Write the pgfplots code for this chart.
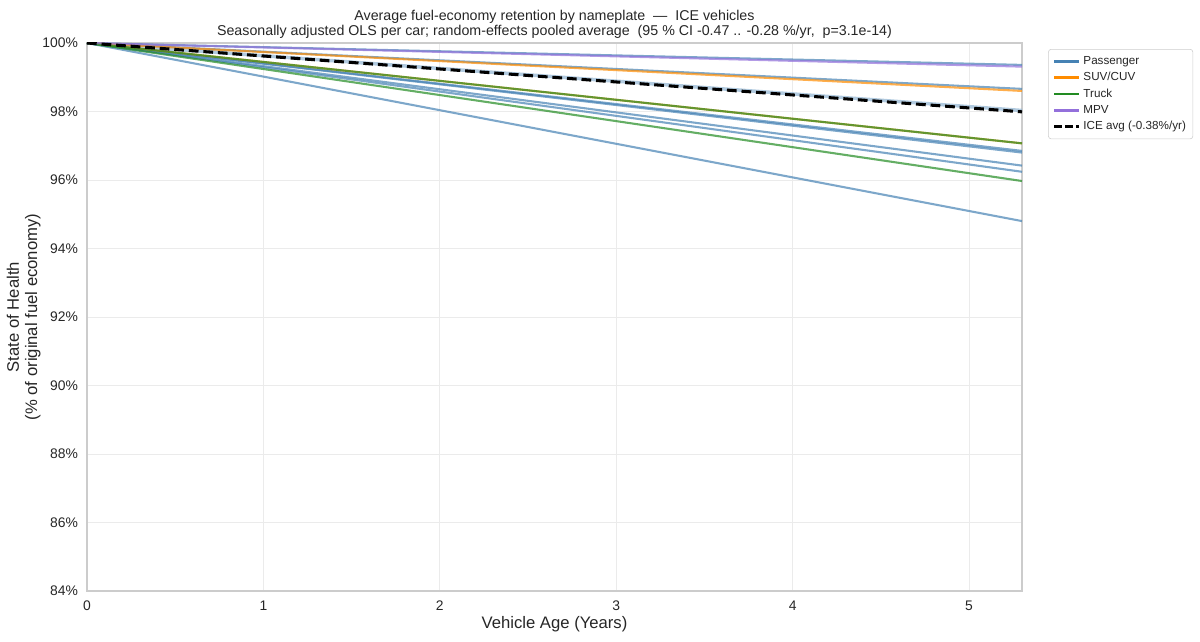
\documentclass[border=0pt]{standalone}
\usepackage{fontspec}
\setmainfont{Liberation Sans}
\usepackage{pgfplots}
\pgfplotsset{compat=1.18}
\definecolor{pass}{RGB}{70,130,180}
\definecolor{suv}{RGB}{255,140,0}
\definecolor{truck}{RGB}{34,139,34}
\definecolor{mpv}{RGB}{147,112,219}
\definecolor{txt}{RGB}{38,38,38}
\begin{document}
\begin{tikzpicture}[x=1pt,y=1pt]
\path[use as bounding box] (-62.64,-36.72) rectangle (801.36,425.52);
\begin{axis}[at={(0,0)}, anchor=south west, scale only axis,
  width=673.2pt, height=394.56pt,
  xmin=0, xmax=5.3, ymin=84, ymax=100,
  xtick={0,1,2,3,4,5}, ytick={84,86,...,100},
  yticklabel={\pgfmathprintnumber{\tick}\%},
  /pgf/number format/assume math mode=true,
  major tick length=0pt,
  grid=major, grid style={color=black!8, line width=0.6pt},
  axis line style={black!20, line width=0.8pt},
  tick label style={font=\fontsize{10}{12}\selectfont, text=txt},
  xticklabel style={yshift=-3.5pt},
  yticklabel style={xshift=-3pt},
  label style={font=\fontsize{12}{13}\selectfont, text=txt},
  xlabel={Vehicle Age (Years)},
  xlabel style={yshift=3pt},
  ylabel={State of Health\\(\% of original fuel economy)},
  ylabel style={align=center, yshift=-5.5pt},
  title={Average fuel-economy retention by nameplate \ — \ ICE vehicles\\Seasonally adjusted OLS per car; random-effects pooled average \ (95 \% CI -0.47 .. -0.28 \%/yr, \ p=3.1e-14)},
  title style={align=center, font=\fontsize{10.25}{11}\selectfont, text=txt, at={(0.5,1)}, anchor=south, yshift=-6.5pt},
  legend style={at={(1.028,0.989)}, anchor=north west, draw=black!20, rounded corners=2pt,
    font=\fontsize{8.4}{10}\selectfont, text=txt, row sep=0.3pt, inner sep=3pt},
  legend cell align=left,
  legend image code/.code={\draw[#1] (0pt,0pt) -- (18pt,0pt);},
  every axis plot/.append style={line width=1.5pt},
]
\addlegendimage{pass, line width=1.8pt}\addlegendentry{Passenger}
\addlegendimage{suv, line width=1.8pt}\addlegendentry{SUV/CUV}
\addlegendimage{truck, line width=1.8pt}\addlegendentry{Truck}
\addlegendimage{mpv, line width=1.8pt}\addlegendentry{MPV}
\addlegendimage{black, dash pattern=on 5.5pt off 2.5pt, line width=2.2pt}\addlegendentry{ICE avg (-0.38\%/yr)}
% Passenger
\addplot[pass, opacity=0.7, forget plot] coordinates {(0,100) (5.3,99.36)};
\addplot[pass, opacity=0.7, forget plot] coordinates {(0,100) (5.3,98.66)};
\addplot[pass!60, opacity=0.7, forget plot, line width=2.5pt] coordinates {(0,100) (5.3,98.03)};
\addplot[pass, opacity=0.7, forget plot] coordinates {(0,100) (5.3,96.85)};
\addplot[pass, opacity=0.7, forget plot] coordinates {(0,100) (5.3,96.80)};
\addplot[pass, opacity=0.7, forget plot] coordinates {(0,100) (5.3,96.42)};
\addplot[pass, opacity=0.7, forget plot] coordinates {(0,100) (5.3,96.24)};
\addplot[pass, opacity=0.7, forget plot] coordinates {(0,100) (5.3,94.80)};
% SUV/CUV
\addplot[suv, opacity=0.7, forget plot] coordinates {(0,100) (5.3,98.60)};
\addplot[suv, opacity=0.7, forget plot] coordinates {(0,100) (5.3,97.07)};
% Truck
\addplot[truck, opacity=0.7, forget plot] coordinates {(0,100) (5.3,97.07)};
\addplot[truck, opacity=0.7, forget plot] coordinates {(0,100) (5.3,95.97)};
% MPV
\addplot[mpv, opacity=0.7, forget plot] coordinates {(0,100) (5.3,99.31)};
% ICE average
\addplot[black, dash pattern=on 7pt off 3.5pt, line width=2.2pt, forget plot] coordinates {(0,100) (5.3,97.99)};
\end{axis}
\end{tikzpicture}
\end{document}
